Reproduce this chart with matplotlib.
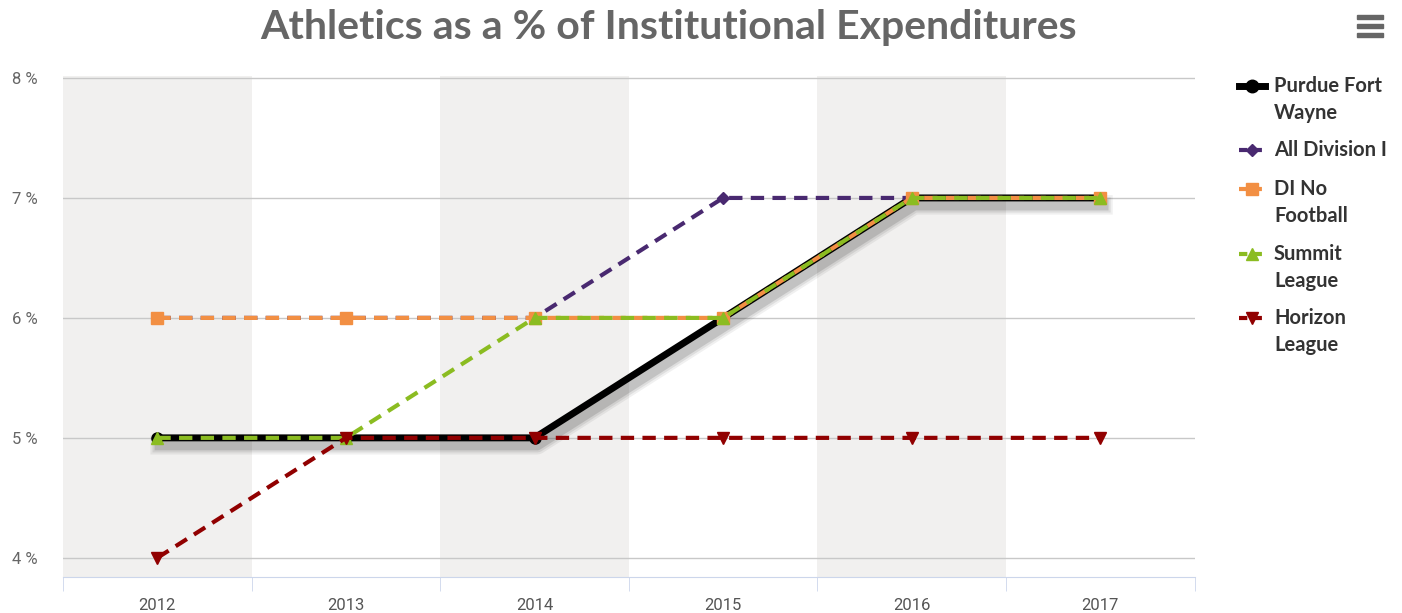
import matplotlib
matplotlib.use("Agg")
import matplotlib.pyplot as plt
import matplotlib.patheffects as pe
from matplotlib.lines import Line2D
from matplotlib.patches import Rectangle

# data
years = ["2012", "2013", "2014", "2015", "2016", "2017"]
purdue_fw = [5, 5, 5, 6, 7, 7]
all_div1 = [6, 6, 6, 7, 7, 7]
di_no_football = [6, 6, 6, 6, 7, 7]
summit = [5, 5, 6, 6, 7, 7]
horizon = [4, 5, 5, 5, 5, 5]
y_ticks = [4, 5, 6, 7, 8]

series = [
    ("Purdue Fort\nWayne", purdue_fw, "#000000", "o", "-"),
    ("All Division I", all_div1, "#492970", "D", "--"),
    ("DI No\nFootball", di_no_football, "#f28f43", "s", "--"),
    ("Summit\nLeague", summit, "#8bbc21", "^", "--"),
    ("Horizon\nLeague", horizon, "#910000", "v", "--"),
]

fig = plt.figure(figsize=(14.02, 6.13), dpi=100)
ax = fig.add_axes([0.045, 0.0587, 0.807, 0.818])

x = list(range(len(years)))

# alternating bands
for i in x:
    if i % 2 == 0:
        ax.axvspan(i - 0.5, i + 0.5, color="#f1f0ef", zorder=0, lw=0)

for t in y_ticks:
    ax.axhline(t, color="#c8c8c8", lw=1, zorder=1)

for k, (name, vals, col, mk, ls) in enumerate(series):
    if k == 0:
        # soft shadow under the highlighted line
        shadow = [pe.SimpleLineShadow(offset=(2, -5), shadow_color="k", alpha=a, linewidth=w)
                  for a, w in [(0.06, 14), (0.08, 11), (0.12, 8)]]
        ax.plot(x, vals, color="none", lw=5, zorder=2, path_effects=shadow)
        ax.plot(x, vals, color=col, lw=5, marker=mk, ms=8, zorder=3)
    else:
        ax.plot(x, vals, color=col, lw=3, ls=ls, dashes=(3.2, 2.0), marker=mk,
                ms=9 if mk != "D" else 6, zorder=3 + k)

ax.set_xlim(-0.5, len(years) - 0.5)
ax.set_ylim(3.84, 8.02)
ax.set_yticks(y_ticks)
ax.set_yticklabels([f"{t} %" for t in y_ticks])
ax.set_xticks(x)
ax.set_xticklabels(years)
ax.set_xticks([i - 0.5 for i in range(len(years) + 1)], minor=True)
ax.tick_params(axis="x", which="major", length=0, pad=15, labelsize=12, labelcolor="#555555")
ax.tick_params(axis="x", which="minor", length=10, color="#ccd6eb")
ax.tick_params(axis="y", length=0, pad=18, labelsize=12, labelcolor="#666666")
for lab in ax.get_xticklabels() + ax.get_yticklabels():
    lab.set_family("Roboto")
for s in ["top", "right", "left"]:
    ax.spines[s].set_visible(False)
ax.spines["bottom"].set_color("#ccd6eb")

fig.text(0.477, 0.955, "Athletics as a % of Institutional Expenditures", ha="center", va="center",
         fontsize=29.5, fontweight="bold", color="#666666", family="Lato")

# legend
leg_y = [86, 150, 189, 254, 318]
for (name, vals, col, mk, ls), yp in zip(series, leg_y):
    yf = 1 - yp / 613
    if mk == "o":
        fig.add_artist(Line2D([1239 / 1402, 1265 / 1402], [yf, yf], color=col, lw=5))
    else:
        fig.add_artist(Line2D([1239 / 1402, 1265 / 1402], [yf, yf], color=col, lw=3,
                              ls="--", dashes=(2, 1.5)))
    fig.add_artist(Line2D([1252 / 1402], [yf], color=col, marker=mk, ms=9 if mk != "D" else 6))
    fig.text(1274 / 1402, yf + 10 / 613, name, ha="left", va="top", fontsize=14.5,
             fontweight="bold", color="#333333", family="Lato", linespacing=1.45)

# menu icon
for yp in [17, 26, 35]:
    fig.add_artist(Rectangle((1357 / 1402, 1 - (yp + 2) / 613), 26 / 1402, 4 / 613,
                             color="#666666", transform=fig.transFigure))

fig.savefig("out.png", dpi=100)
